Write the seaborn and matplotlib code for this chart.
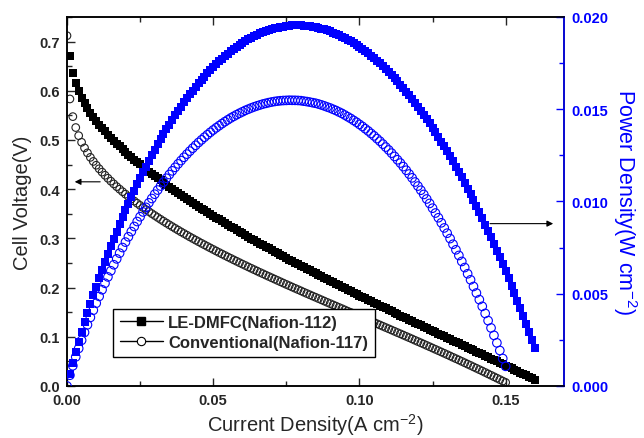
import numpy as np
import pandas as pd
import matplotlib
matplotlib.use("Agg")
import matplotlib.pyplot as plt
import seaborn as sns
from matplotlib.lines import Line2D
from matplotlib.ticker import MultipleLocator, FormatStrFormatter

# Polarization data: current density in A cm^-2 (fixed 0.001 step), cell voltage in V
le_current_start, le_current_step = 0.001, 0.001
le_voltage = [
    0.6698, 0.6361, 0.6150, 0.5990, 0.5859, 0.5745, 0.5644, 0.5552, 0.5467, 0.5387,
    0.5312, 0.5241, 0.5173, 0.5108, 0.5045, 0.4984, 0.4925, 0.4868, 0.4812, 0.4758,
    0.4704, 0.4652, 0.4601, 0.4551, 0.4502, 0.4454, 0.4406, 0.4359, 0.4313, 0.4268,
    0.4223, 0.4179, 0.4135, 0.4092, 0.4049, 0.4007, 0.3965, 0.3924, 0.3883, 0.3843,
    0.3803, 0.3763, 0.3723, 0.3684, 0.3646, 0.3607, 0.3569, 0.3532, 0.3494, 0.3457,
    0.3420, 0.3384, 0.3347, 0.3311, 0.3275, 0.3240, 0.3204, 0.3169, 0.3134, 0.3100,
    0.3065, 0.3031, 0.2997, 0.2963, 0.2929, 0.2896, 0.2862, 0.2829, 0.2796, 0.2763,
    0.2731, 0.2698, 0.2666, 0.2633, 0.2601, 0.2569, 0.2538, 0.2506, 0.2474, 0.2443,
    0.2412, 0.2381, 0.2350, 0.2319, 0.2288, 0.2257, 0.2227, 0.2196, 0.2166, 0.2135,
    0.2105, 0.2075, 0.2045, 0.2015, 0.1985, 0.1956, 0.1926, 0.1896, 0.1867, 0.1838,
    0.1808, 0.1779, 0.1750, 0.1721, 0.1692, 0.1662, 0.1634, 0.1605, 0.1576, 0.1547,
    0.1518, 0.1489, 0.1461, 0.1432, 0.1404, 0.1375, 0.1347, 0.1318, 0.1290, 0.1261,
    0.1233, 0.1205, 0.1176, 0.1148, 0.1120, 0.1091, 0.1063, 0.1035, 0.1007, 0.0979,
    0.0950, 0.0922, 0.0894, 0.0866, 0.0838, 0.0809, 0.0781, 0.0753, 0.0725, 0.0697,
    0.0669, 0.0640, 0.0612, 0.0584, 0.0556, 0.0527, 0.0499, 0.0471, 0.0443, 0.0414,
    0.0386, 0.0357, 0.0329, 0.0300, 0.0272, 0.0243, 0.0215, 0.0186, 0.0158, 0.0129,
]
cv_current_start, cv_current_step = 0.000, 0.001
cv_voltage = [
    0.7120,
    0.5834, 0.5475, 0.5253, 0.5088, 0.4953, 0.4839, 0.4738, 0.4647, 0.4564, 0.4487,
    0.4415, 0.4347, 0.4283, 0.4222, 0.4163, 0.4107, 0.4052, 0.4000, 0.3949, 0.3899,
    0.3851, 0.3804, 0.3759, 0.3714, 0.3670, 0.3628, 0.3586, 0.3545, 0.3504, 0.3465,
    0.3426, 0.3387, 0.3349, 0.3312, 0.3275, 0.3239, 0.3203, 0.3168, 0.3133, 0.3099,
    0.3065, 0.3031, 0.2998, 0.2965, 0.2933, 0.2900, 0.2869, 0.2837, 0.2806, 0.2775,
    0.2744, 0.2713, 0.2683, 0.2653, 0.2623, 0.2594, 0.2564, 0.2535, 0.2506, 0.2477,
    0.2449, 0.2420, 0.2392, 0.2364, 0.2336, 0.2308, 0.2281, 0.2253, 0.2226, 0.2199,
    0.2172, 0.2145, 0.2118, 0.2091, 0.2064, 0.2038, 0.2011, 0.1985, 0.1959, 0.1933,
    0.1906, 0.1880, 0.1854, 0.1828, 0.1803, 0.1777, 0.1751, 0.1725, 0.1699, 0.1674,
    0.1648, 0.1623, 0.1597, 0.1572, 0.1546, 0.1520, 0.1495, 0.1469, 0.1444, 0.1418,
    0.1393, 0.1367, 0.1342, 0.1316, 0.1291, 0.1265, 0.1240, 0.1214, 0.1188, 0.1163,
    0.1137, 0.1111, 0.1085, 0.1060, 0.1034, 0.1008, 0.0982, 0.0956, 0.0929, 0.0903,
    0.0877, 0.0851, 0.0824, 0.0798, 0.0771, 0.0744, 0.0718, 0.0691, 0.0664, 0.0637,
    0.0610, 0.0582, 0.0555, 0.0528, 0.0500, 0.0472, 0.0444, 0.0417, 0.0388, 0.0360,
    0.0332, 0.0304, 0.0275, 0.0246, 0.0217, 0.0188, 0.0159, 0.0130, 0.0100, 0.0071,
]
series_labels = ["LE-DMFC(Nafion-112)", "Conventional(Nafion-117)"]

sns.set_theme(style="ticks")
plt.rcParams['font.family'] = ['Liberation Sans', 'DejaVu Sans']
plt.rcParams['mathtext.fontset'] = 'custom'
plt.rcParams['mathtext.rm'] = 'Liberation Sans'
plt.rcParams['mathtext.default'] = 'regular'


def polarization_frame(start, step, voltage):
    n = len(voltage)
    current = np.round(start + step * np.arange(n), 3)
    df = pd.DataFrame({"current": current, "voltage": voltage})
    df["power"] = df["current"] * df["voltage"]  # W cm^-2 = A cm^-2 x V
    return df


le = polarization_frame(le_current_start, le_current_step, le_voltage)
cv = polarization_frame(cv_current_start, cv_current_step, cv_voltage)

fig, ax = plt.subplots(figsize=(6.44, 4.39), dpi=100)
fig.subplots_adjust(left=0.104, right=0.876, top=0.959, bottom=0.1185)
ax2 = ax.twinx()

sns.scatterplot(data=cv, x="current", y="voltage", ax=ax, marker="o", s=30,
                color="black", facecolor="none", edgecolor="#222222", linewidth=0.8, zorder=3)
sns.scatterplot(data=le, x="current", y="voltage", ax=ax, marker="s", s=30,
                color="black", edgecolor="black", linewidth=0, zorder=4)
sns.scatterplot(data=cv, x="current", y="power", ax=ax2, marker="o", s=38,
                color="blue", facecolor="none", edgecolor="blue", linewidth=0.8, zorder=3)
sns.scatterplot(data=le, x="current", y="power", ax=ax2, marker="s", s=40,
                color="blue", edgecolor="blue", linewidth=0, zorder=4)

ax.set_xlim(0, 0.17)
ax.set_ylim(0, 0.75)
ax2.set_ylim(0, 0.020)
ax.xaxis.set_major_locator(MultipleLocator(0.05))
ax.xaxis.set_minor_locator(MultipleLocator(0.025))
ax.yaxis.set_major_locator(MultipleLocator(0.1))
ax.yaxis.set_minor_locator(MultipleLocator(0.05))
ax2.yaxis.set_major_locator(MultipleLocator(0.005))
ax2.yaxis.set_minor_locator(MultipleLocator(0.0025))
ax.xaxis.set_major_formatter(FormatStrFormatter("%.2f"))
ax.yaxis.set_major_formatter(FormatStrFormatter("%.1f"))
ax2.yaxis.set_major_formatter(FormatStrFormatter("%.3f"))

ax.tick_params(which="both", direction="in", top=True, right=False, labelsize=10.5, pad=5, width=1)
ax.tick_params(which="major", length=6)
ax.tick_params(which="minor", length=3.5)
ax2.tick_params(which="both", direction="in", colors="blue", labelsize=10.5, pad=5, width=1)
ax2.tick_params(which="major", length=6)
ax2.tick_params(which="minor", length=3.5)
for sp in ax.spines.values():
    sp.set_color("black"); sp.set_linewidth(1.1)
for name, sp in ax2.spines.items():
    sp.set_linewidth(1.1)
    sp.set_color("blue" if name == "right" else "black")

ax.set_xlabel("Current Density(A cm$^{-2}$)", fontsize=14.5, labelpad=3)
ax.set_ylabel("Cell Voltage(V)", fontsize=14.5, labelpad=5)
ax2.set_ylabel("Power Density(W cm$^{-2}$)", fontsize=15.5, color="blue", rotation=270, labelpad=22)

# Arrows pointing each curve family to its own axis
ax.annotate("", xy=(0.0017, 0.415), xytext=(0.0123, 0.415),
            arrowprops=dict(arrowstyle="-|>", color="black", lw=0.8, mutation_scale=9))
ax2.annotate("", xy=(0.1672, 0.0088), xytext=(0.1437, 0.0088),
             arrowprops=dict(arrowstyle="-|>", color="black", lw=0.8, mutation_scale=9))

handles = [Line2D([], [], color="black", lw=1, marker="s", markersize=5.5),
           Line2D([], [], color="black", lw=1, marker="o", markersize=6,
                  markerfacecolor="white", markeredgewidth=0.8)]
leg = ax2.legend(handles, series_labels,
                 loc="lower left", bbox_to_anchor=(0.0926, 0.0786), borderaxespad=0,
                 fancybox=False, edgecolor="black", framealpha=1, handlelength=2.6,
                 prop={"weight": "bold", "size": 12}, borderpad=0.4, labelspacing=0.3,
                 handletextpad=0.3)
leg.get_frame().set_linewidth(1.0)

plt.setp(ax.get_xticklabels() + ax.get_yticklabels() + ax2.get_yticklabels(), fontweight="bold")

fig.savefig("out.png", dpi=100)
